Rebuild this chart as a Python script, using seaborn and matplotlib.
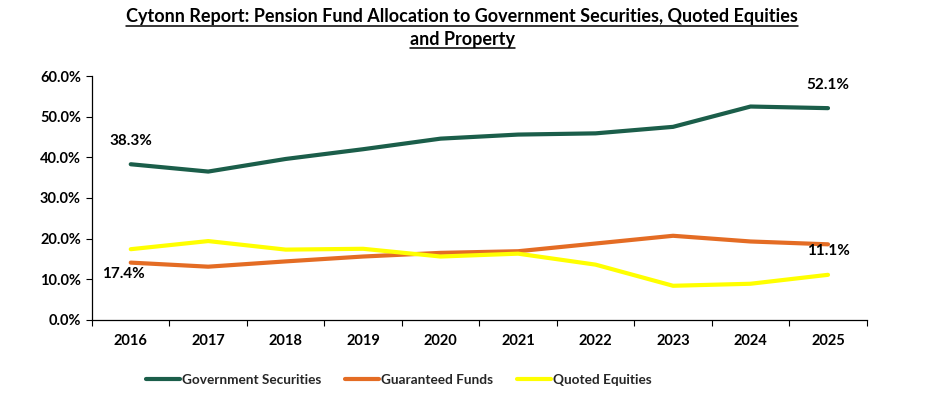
import matplotlib
matplotlib.use("Agg")
import matplotlib.pyplot as plt
import seaborn as sns
import pandas as pd
from matplotlib.ticker import FixedLocator, FuncFormatter
from matplotlib.lines import Line2D

years = ["2016", "2017", "2018", "2019", "2020", "2021", "2022", "2023", "2024", "2025"]
gov_securities = [38.3, 36.5, 39.6, 42.0, 44.6, 45.6, 45.9, 47.5, 52.5, 52.1]
guaranteed_funds = [14.1, 13.1, 14.4, 15.6, 16.5, 16.9, 18.8, 20.7, 19.3, 18.6]
quoted_equities = [17.4, 19.4, 17.3, 17.5, 15.6, 16.3, 13.6, 8.4, 8.9, 11.1]
series_names = ["Government Securities", "Guaranteed Funds", "Quoted Equities"]
colors = ["#1b5e4a", "#e46c24", "#ffff00"]

sns.set_theme(style="white")
plt.rcParams['font.family'] = ['Lato', 'DejaVu Sans']

rows = []
for name, vals in zip(series_names, [gov_securities, guaranteed_funds, quoted_equities]):
    for i, v in enumerate(vals):
        rows.append({"x": i, "year": years[i], "value": v, "series": name})
df = pd.DataFrame(rows)

fig = plt.figure(figsize=(9.34, 3.94), dpi=100)
ax = fig.add_axes([0.0985, 0.188, 0.8295, 0.619])

sns.lineplot(data=df, x="x", y="value", hue="series", palette=colors,
             hue_order=series_names, linewidth=3.0, ax=ax, legend=False)

ax.set_xlim(-0.5, len(years) - 0.5)
ax.set_ylim(0, 60)
ax.set_xlabel("")
ax.set_ylabel("")

ax.xaxis.set_major_locator(FixedLocator([i - 0.5 for i in range(len(years) + 1)]))
ax.xaxis.set_major_formatter(FuncFormatter(lambda v, p: ""))
ax.xaxis.set_minor_locator(FixedLocator(list(range(len(years)))))
ax.set_xticklabels(years, minor=True)
ax.tick_params(axis="x", which="major", direction="out", length=4, width=0.8, color="black", bottom=True)
ax.tick_params(axis="x", which="minor", length=0, pad=10, labelsize=10.5, labelcolor="black")
for t in ax.get_xticklabels(minor=True):
    t.set_fontweight("bold")

ax.set_yticks([0, 10, 20, 30, 40, 50, 60])
ax.yaxis.set_major_formatter(FuncFormatter(lambda v, p: f"{v:.1f}%"))
ax.tick_params(axis="y", direction="out", length=4, width=0.8, color="black", left=True,
               labelsize=10.5, labelcolor="black", pad=4)
for t in ax.get_yticklabels():
    t.set_fontweight("bold")

ax.spines["top"].set_visible(False)
ax.spines["right"].set_visible(False)
ax.spines["left"].set_color("black")
ax.spines["bottom"].set_color("black")
ax.spines["left"].set_linewidth(0.9)
ax.spines["bottom"].set_linewidth(0.9)

lab_kw = dict(textcoords="offset points", ha="center", va="center", fontsize=11,
              fontweight="bold", color="black")
ax.annotate(f"{gov_securities[0]:.1f}%", (0, gov_securities[0]), xytext=(0, 17), **lab_kw)
ax.annotate(f"{quoted_equities[0]:.1f}%", (0, quoted_equities[0]), xytext=(-5, -18), **lab_kw)
ax.annotate(f"{gov_securities[-1]:.1f}%", (9, gov_securities[-1]), xytext=(0, 17), **lab_kw)
ax.annotate(f"{quoted_equities[-1]:.1f}%", (9, quoted_equities[-1]), xytext=(0, 17), **lab_kw)

handles = [Line2D([0], [0], color=c, lw=3.0) for c in colors]
fig.legend(handles, series_names, loc="center", bbox_to_anchor=(0.427, 0.035), ncol=3,
           frameon=False, prop={"weight": "bold", "size": 9.8}, handlelength=2.45,
           handletextpad=0.15, columnspacing=1.8)

t1 = fig.text(0.495, 0.943, "Cytonn Report: Pension Fund Allocation to Government Securities, Quoted Equities",
              ha="center", va="baseline", fontsize=13, fontweight="bold", color="black")
t2 = fig.text(0.495, 0.887, "and Property", ha="center", va="baseline", fontsize=13,
              fontweight="bold", color="black")
fig.canvas.draw()
r = fig.canvas.get_renderer()
for t in (t1, t2):
    bb = t.get_window_extent(renderer=r)
    x0, x1 = bb.x0 / fig.bbox.width, bb.x1 / fig.bbox.width
    y = t.get_position()[1] - 3.5 / fig.bbox.height
    fig.add_artist(Line2D([x0, x1], [y, y], color="black", lw=1.1, transform=fig.transFigure))

fig.savefig("out.png", dpi=100)
